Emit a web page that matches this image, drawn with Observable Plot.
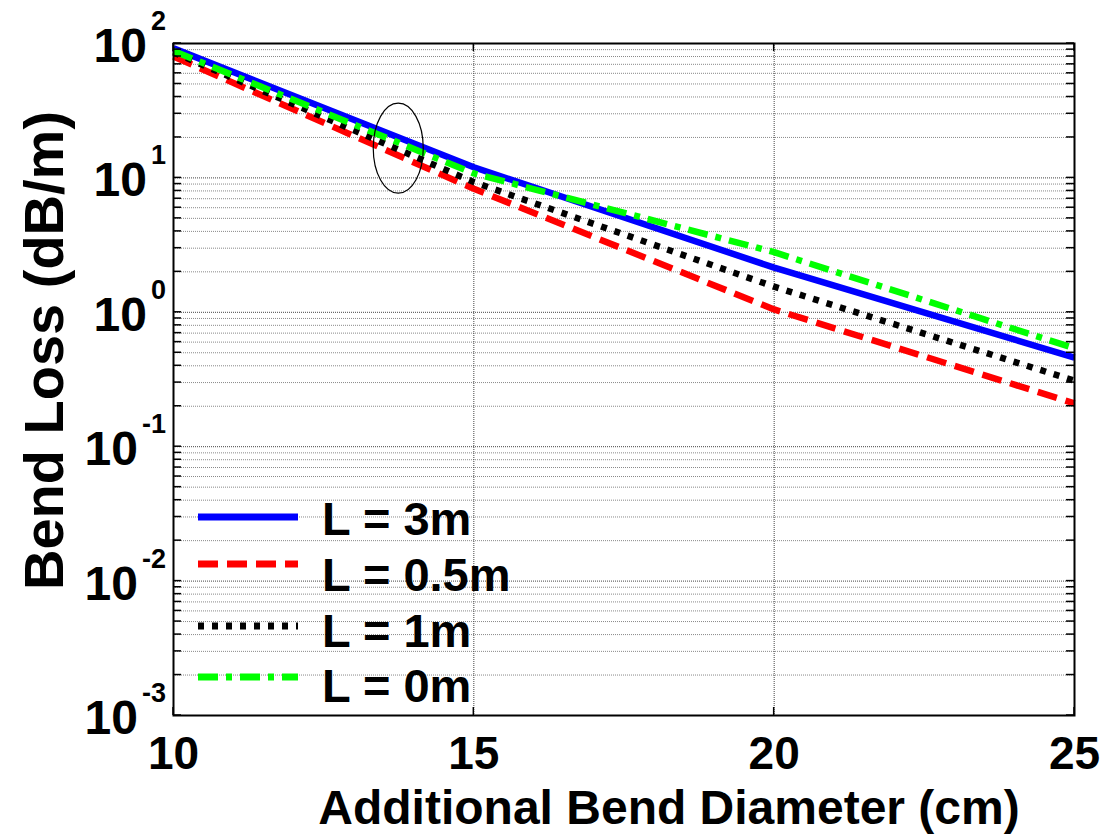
<!DOCTYPE html>
<html><head><meta charset="utf-8">
<script src="https://cdn.jsdelivr.net/npm/d3@7"></script>
<script src="https://cdn.jsdelivr.net/npm/@observablehq/plot@0.6"></script>
<style>body{margin:0;background:#fff}</style>
</head><body><div id="chart"></div>
<script>
// ---- data ----
const diameters = [10, 15, 20, 25];
const loss3m  = [92, 12, 2.15, 0.46];
const loss05m = [80, 8.3, 1.05, 0.21];
const loss1m  = [86, 9.3, 1.55, 0.31];
const loss0m  = [88, 10.8, 2.8, 0.54];
const seriesNames  = ["L = 3m", "L = 0.5m", "L = 1m", "L = 0m"];
const seriesValues = [loss3m, loss05m, loss1m, loss0m];
const seriesColors = ["#0000ff", "#ff0000", "#000000", "#00ff00"];
const seriesDash   = [null, "20,9", "6,8", "20,8,6,8"];
const xTicks = [10, 15, 20, 25];
const yExponents = [2, 1, 0, -1, -2, -3];
const ellipseCenter = {x: 13.75, y: 16.5};

const FONT = "'Liberation Sans', Arial, Helvetica, sans-serif";
const rows = seriesNames.flatMap((s, i) => diameters.map((d, j) => ({series: s, d, v: seriesValues[i][j]})));
const decades = yExponents.map(e => Math.pow(10, e));
const minor = [];
for (const e of yExponents.slice(1)) for (let k = 2; k <= 9; k++) minor.push(k * Math.pow(10, e));
const allYTicks = decades.concat(minor);

function extras(index, scales, values, dim) {
  const {x, y} = scales;
  const L = dim.marginLeft, R = dim.width - dim.marginRight, T = dim.marginTop, B = dim.height - dim.marginBottom;
  const g = d3.create("svg:g");
  // inward ticks
  for (const v of allYTicks) {
    const yy = y(v);
    g.append("line").attr("x1", L).attr("x2", L + 8).attr("y1", yy).attr("y2", yy).attr("stroke", "#000").attr("stroke-width", 1.5);
    g.append("line").attr("x1", R).attr("x2", R - 8).attr("y1", yy).attr("y2", yy).attr("stroke", "#000").attr("stroke-width", 1.5);
  }
  for (const v of xTicks) {
    const xx = x(v);
    g.append("line").attr("x1", xx).attr("x2", xx).attr("y1", B).attr("y2", B - 8).attr("stroke", "#000").attr("stroke-width", 1.5);
    g.append("line").attr("x1", xx).attr("x2", xx).attr("y1", T).attr("y2", T + 8).attr("stroke", "#000").attr("stroke-width", 1.5);
  }
  // y tick labels 10^n
  yExponents.forEach(e => {
    const t = g.append("text").attr("x", L - 7).attr("y", y(Math.pow(10, e)) + 19)
      .attr("text-anchor", "end").attr("font-family", FONT).attr("font-weight", "bold").attr("font-size", 48).attr("fill", "#000");
    t.append("tspan").text("10");
    t.append("tspan").attr("dx", 4).attr("dy", -32).attr("font-size", 27).text(String(e));
  });
  // ellipse annotation
  g.append("ellipse").attr("cx", x(ellipseCenter.x)).attr("cy", y(ellipseCenter.y))
    .attr("rx", 25).attr("ry", 45).attr("fill", "none").attr("stroke", "#000").attr("stroke-width", 1.2);
  // legend
  const lineY = [B - 198, B - 151, B - 89, B - 38];
  const textY = [B - 180, B - 124, B - 68, B - 13];
  seriesNames.forEach((s, i) => {
    const ln = g.append("line").attr("x1", L + 25).attr("x2", L + 125).attr("y1", lineY[i]).attr("y2", lineY[i])
      .attr("stroke", seriesColors[i]).attr("stroke-width", 7);
    if (seriesDash[i]) ln.attr("stroke-dasharray", seriesDash[i]);
    g.append("text").attr("x", L + 149).attr("y", textY[i]).attr("text-anchor", "start")
      .attr("font-family", FONT).attr("font-weight", "bold")
      .attr("font-size", 47).attr("fill", "#000").text(s);
  });
  return g.node();
}

const plot = Plot.plot({
  width: 1113, height: 840,
  marginLeft: 173, marginRight: 39, marginTop: 43, marginBottom: 125,
  style: {fontFamily: FONT, background: "#fff"},
  x: {domain: [10, 25], axis: null},
  y: {type: "log", domain: [1e-3, 1e2], axis: null},
  marks: [
    Plot.ruleY(minor, {stroke: "#888", strokeWidth: 1, strokeDasharray: "1,1"}),
    Plot.ruleY(decades, {stroke: "#444", strokeWidth: 1, strokeDasharray: "1,1"}),
    Plot.ruleX(xTicks.slice(1, -1), {stroke: "#444", strokeWidth: 1, strokeDasharray: "1,1"}),
    ...seriesNames.map((s, i) => Plot.line(rows.filter(r => r.series === s), {
      x: "d", y: "v", stroke: seriesColors[i], strokeWidth: 6.5,
      strokeDasharray: seriesDash[i] || undefined, strokeLinecap: "butt", strokeLinejoin: "round"
    })),
    Plot.frame({stroke: "#000", strokeWidth: 2}),
    extras,
    Plot.text(xTicks, {x: d => d, frameAnchor: "bottom", lineAnchor: "bottom", textAnchor: "middle", dy: 53, text: d => String(d),
      fontSize: 46, fontWeight: "bold", fill: "#000"}),
    Plot.text(["Additional Bend Diameter (cm)"], {x: () => 17.5, frameAnchor: "bottom", lineAnchor: "bottom", textAnchor: "middle",
      dy: 108, dx: 45, text: d => d, fontSize: 48, fontWeight: "bold", fill: "#000"}),
    Plot.text(["Bend Loss (dB/m)"], {frameAnchor: "left", rotate: -90, lineAnchor: "bottom", textAnchor: "middle",
      dx: -111, dy: -29, text: d => d, fontSize: 56, fontWeight: "bold", fill: "#000"})
  ]
});
document.getElementById("chart").appendChild(plot);
</script>
</body></html>
